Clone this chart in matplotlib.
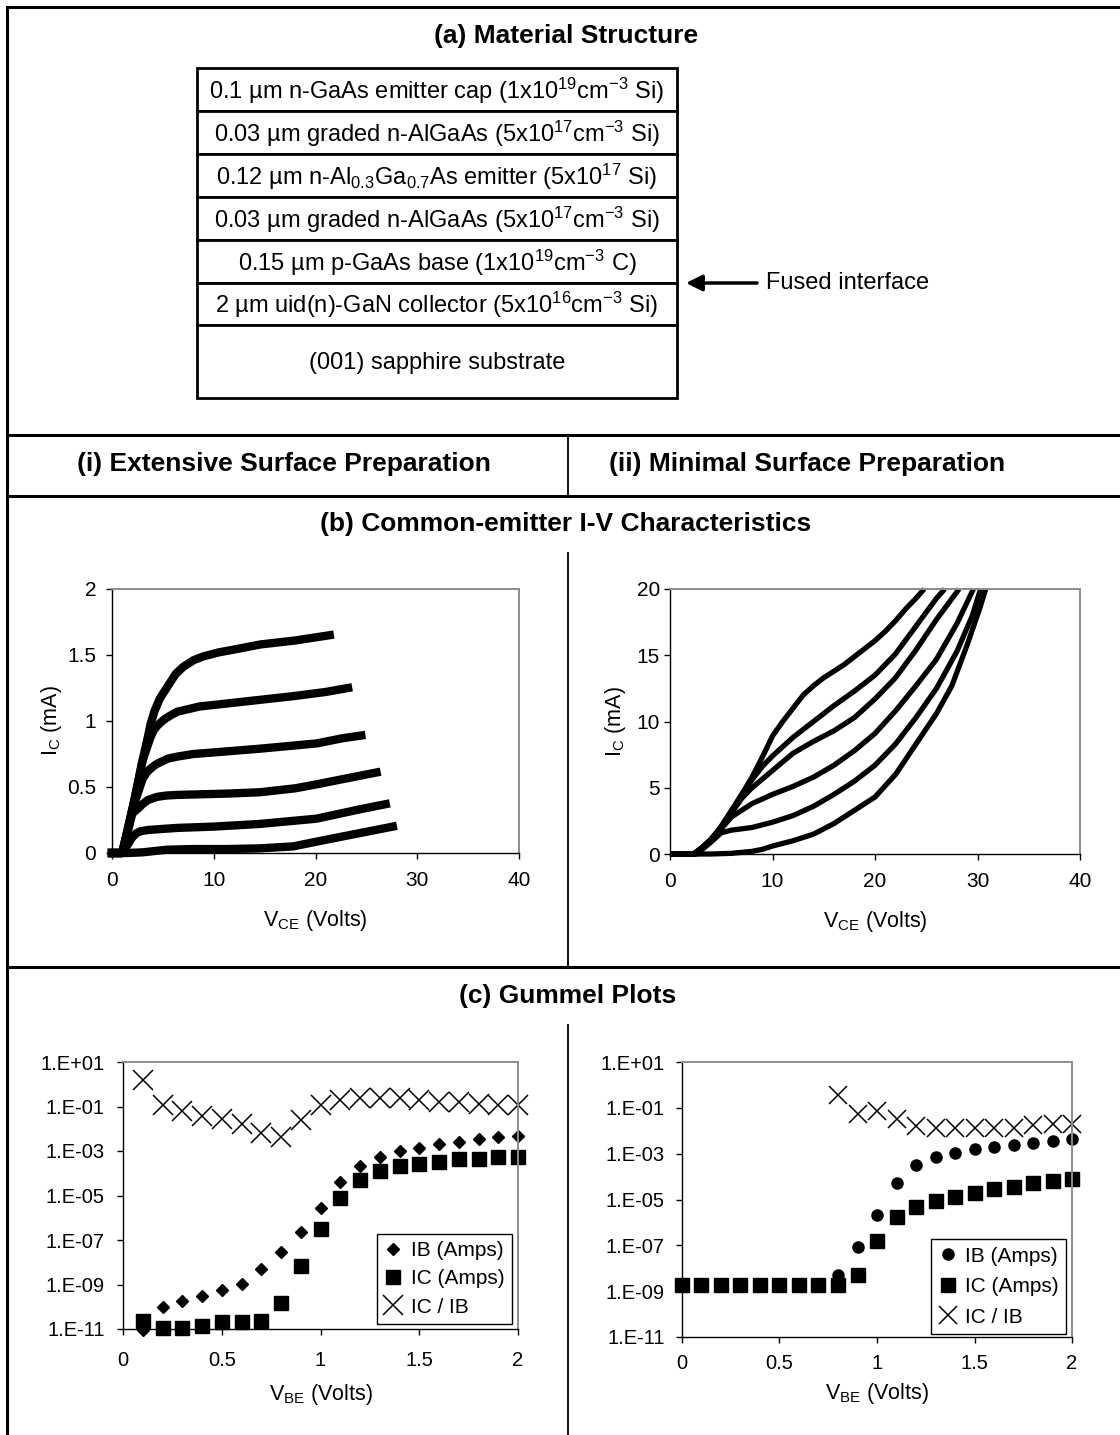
import numpy as np
import matplotlib
matplotlib.use('Agg')
import matplotlib.pyplot as plt
import matplotlib.patches as mplpatches
from matplotlib.ticker import FuncFormatter

plt.rcParams['font.family'] = ['Liberation Sans', 'DejaVu Sans']
plt.rcParams['mathtext.fontset'] = 'custom'
plt.rcParams['mathtext.rm'] = 'Liberation Sans'
plt.rcParams['mathtext.it'] = 'Liberation Sans:italic'
plt.rcParams['mathtext.bf'] = 'Liberation Sans:bold'
plt.rcParams['mathtext.default'] = 'regular'

# ---- data: layer stack ----
layers = ["0.1 \u00b5m n-GaAs emitter cap (1x10$^{19}$cm$^{-3}$ Si)",
          "0.03 \u00b5m graded n-AlGaAs (5x10$^{17}$cm$^{-3}$ Si)",
          "0.12 \u00b5m n-Al$_{0.3}$Ga$_{0.7}$As emitter (5x10$^{17}$ Si)",
          "0.03 \u00b5m graded n-AlGaAs (5x10$^{17}$cm$^{-3}$ Si)",
          "0.15 \u00b5m p-GaAs base (1x10$^{19}$cm$^{-3}$ C)",
          "2 \u00b5m uid(n)-GaN collector (5x10$^{16}$cm$^{-3}$ Si)",
          "(001) sapphire substrate"]

# ---- data: (i) common-emitter IV, mA vs V ----
ivL_v = [[0, 1.0, 1.5, 2.0, 2.5, 3.0, 3.5, 3.8, 4.2, 4.7, 5.2, 5.7, 6.3, 7.0, 8.0, 9.0, 10.5, 11.9, 14.6, 18.0, 21.4],
         [0, 1.0, 2.0, 3.0, 3.8, 4.1, 4.4, 4.8, 5.1, 5.7, 6.4, 7.5, 8.6, 11.0, 14.5, 18.0, 21.0, 23.2],
         [0, 1.0, 2.0, 3.0, 3.4, 3.8, 4.3, 4.8, 5.5, 6.4, 8.0, 9.7, 14.5, 20.1, 22.7, 24.5],
         [0, 1.0, 2.0, 2.6, 3.0, 3.5, 4.4, 5.3, 6.4, 11.3, 14.5, 18.0, 20.1, 22.7, 26.0],
         [0, 1.0, 1.6, 2.0, 2.4, 2.8, 3.6, 6.4, 10.0, 14.5, 20.1, 24.3, 26.9],
         [0, 1.5, 3.0, 5.4, 8.0, 11.3, 14.5, 17.8, 21.0, 24.3, 27.6]]
ivL_i = [[0, 0, 0.15, 0.33, 0.51, 0.70, 0.87, 0.98, 1.08, 1.17, 1.23, 1.29, 1.36, 1.41, 1.46, 1.49, 1.52, 1.54, 1.58, 1.61, 1.65],
         [0, 0, 0.33, 0.70, 0.88, 0.93, 0.96, 0.99, 1.01, 1.04, 1.07, 1.09, 1.11, 1.13, 1.16, 1.19, 1.22, 1.25],
         [0, 0, 0.33, 0.56, 0.61, 0.64, 0.67, 0.69, 0.715, 0.73, 0.75, 0.76, 0.79, 0.83, 0.87, 0.89],
         [0, 0, 0.30, 0.34, 0.37, 0.40, 0.425, 0.435, 0.44, 0.45, 0.46, 0.49, 0.52, 0.56, 0.61],
         [0, 0, 0.07, 0.12, 0.15, 0.165, 0.175, 0.19, 0.20, 0.22, 0.26, 0.33, 0.37],
         [0, 0, 0.005, 0.025, 0.03, 0.03, 0.035, 0.05, 0.10, 0.15, 0.20]]

# ---- data: (ii) common-emitter IV, mA vs V ----
ivR_v = [[0, 2.3, 3, 4, 5, 6, 7, 8, 9, 10, 11, 12, 13, 14, 15, 16, 17, 18, 19, 20, 21, 22, 23, 24, 24.8],
         [0, 2.3, 3, 4, 5, 6, 7, 8, 9, 10, 12, 14, 16, 18, 20, 22, 24, 26, 26.8],
         [0, 2.3, 3, 4, 5, 6, 7, 8, 10, 12, 14, 16, 18, 20, 22, 24, 26, 28.2],
         [0, 2.4, 3, 4, 5, 6, 8, 10, 12, 14, 16, 18, 20, 22, 24, 26, 28, 29.6],
         [0, 2.6, 4, 5, 6, 8, 10, 12, 14, 16, 18, 20, 22, 24, 26, 28, 29.5, 30.3],
         [0, 4, 6, 8, 9, 10, 12, 14, 16, 18, 20, 22, 24, 26, 27.5, 29, 30.2, 30.8]]
ivR_i = [[0, 0, 0.4, 1.1, 2.1, 3.3, 4.5, 5.8, 7.3, 8.9, 10.0, 11.0, 12.0, 12.7, 13.3, 13.8, 14.3,
          14.9, 15.5, 16.1, 16.8, 17.6, 18.5, 19.3, 20],
         [0, 0, 0.4, 1.1, 2.0, 3.2, 4.5, 5.6, 6.6, 7.4, 8.8, 10.0, 11.2, 12.3, 13.5, 15.1, 17.2, 19.3, 20],
         [0, 0, 0.4, 1.1, 2.0, 3.1, 4.2, 5.0, 6.3, 7.6, 8.5, 9.3, 10.3, 11.7, 13.3, 15.4, 17.7, 20],
         [0, 0, 0.3, 1.0, 1.9, 2.8, 3.8, 4.5, 5.1, 5.8, 6.7, 7.8, 9.1, 10.8, 12.7, 14.7, 17.4, 20],
         [0, 0, 0.9, 1.6, 1.8, 2.0, 2.4, 2.9, 3.6, 4.5, 5.5, 6.7, 8.3, 10.3, 12.5, 15.3, 18.0, 20],
         [0, 0, 0.05, 0.2, 0.35, 0.6, 1.0, 1.5, 2.3, 3.3, 4.3, 6.0, 8.3, 10.6, 12.7, 15.8, 18.5, 20]]

# ---- data: Gummel plots, log10 of value ----
vbeL = [0.1, 0.2, 0.3, 0.4, 0.5, 0.6, 0.7, 0.8, 0.9, 1.0, 1.1, 1.2, 1.3, 1.4, 1.5, 1.6, 1.7, 1.8, 1.9, 2.0]
ibL_log = [-11.06, -10.02, -9.76, -9.51, -9.24, -8.97, -8.31, -7.52, -6.62, -5.55,
           -4.38, -3.66, -3.26, -3.01, -2.86, -2.68, -2.59, -2.48, -2.39, -2.32]
icL_log = [-10.63, -10.96, -10.96, -10.85, -10.69, -10.69, -10.63, -9.81, -8.19, -6.50,
           -5.10, -4.31, -3.89, -3.66, -3.59, -3.48, -3.38, -3.38, -3.26, -3.26]
gainL_log = [0.21, -0.94, -1.20, -1.42, -1.57, -1.77, -2.21, -2.39, -1.62, -0.94,
             -0.69, -0.61, -0.61, -0.61, -0.69, -0.79, -0.79, -0.87, -0.94, -0.94]

vbeR = [0.0, 0.1, 0.2, 0.3, 0.4, 0.5, 0.6, 0.7, 0.8, 0.9, 1.0, 1.1, 1.2, 1.3, 1.4, 1.5, 1.6, 1.7, 1.8, 1.9, 2.0]
icR_log = [-8.75, -8.75, -8.75, -8.75, -8.75, -8.75, -8.75, -8.75, -8.75, -8.29, -6.79,
           -5.78, -5.34, -5.07, -4.88, -4.70, -4.52, -4.44, -4.27, -4.18, -4.11]
vbeR_b = [0.8, 0.9, 1.0, 1.1, 1.2, 1.3, 1.4, 1.5, 1.6, 1.7, 1.8, 1.9, 2.0]
ibR_log = [-8.29, -7.06, -5.68, -4.27, -3.50, -3.14, -2.96, -2.80, -2.70, -2.60, -2.53, -2.44, -2.37]
gainR_log = [-0.45, -1.28, -1.13, -1.47, -1.80, -1.86, -1.86, -1.86, -1.86, -1.90, -1.76, -1.71, -1.69]

# ---- figure in pixel units ----
W, H = 1120, 1435
fig = plt.figure(figsize=(W/100, H/100), dpi=100)

def pixbox(x0, y0, x1, y1):
    return [x0/W, 1 - y1/H, (x1 - x0)/W, (y1 - y0)/H]

bg = fig.add_axes([0, 0, 1, 1])
bg.set_xlim(0, W)
bg.set_ylim(H, 0)
bg.axis('off')

# frame lines
bg.plot([7, W], [7, 7], color='black', lw=2.2)
bg.plot([7, 7], [7, H], color='black', lw=2.2)
for yy in [435, 496, 967]:
    bg.plot([7, W], [yy, yy], color='black', lw=2.2)
for (ya, yb) in [(435, 496), (553, 967), (1025, H)]:
    bg.plot([568, 568], [ya, yb], color='black', lw=1.3)

hfont = dict(fontsize=19, fontweight='bold', ha='center', va='center')
bg.text(566, 36, "(a) Material Structure", **hfont)
bg.text(284, 464, "(i) Extensive Surface Preparation", **hfont)
bg.text(807, 464, "(ii) Minimal Surface Preparation", **hfont)
bg.text(566, 524, "(b) Common-emitter I-V Characteristics", **hfont)
bg.text(568, 996, "(c) Gummel Plots", **hfont)

# layer stack
edges = [68, 111, 154, 197, 240, 283, 325, 398]
for k in range(len(layers)):
    rect = mplpatches.Rectangle((197, edges[k]), 480, edges[k+1] - edges[k],
                                facecolor='white', edgecolor='black', linewidth=2)
    bg.add_patch(rect)
    bg.text(437, (edges[k] + edges[k+1])/2 + 1, layers[k], fontsize=17,
            ha='center', va='center')

bg.annotate('', xy=(686, 283), xytext=(757, 283),
            arrowprops=dict(arrowstyle='-|>', lw=2.5, color='black',
                            mutation_scale=24, shrinkA=0, shrinkB=0))
bg.text(766, 283, "Fused interface", fontsize=17, ha='left', va='center')


def style(ax, tsize, xpad, ypad):
    for s in ['top', 'right']:
        ax.spines[s].set_color('#8c8c8c')
        ax.spines[s].set_linewidth(1.4)
    for s in ['left', 'bottom']:
        ax.spines[s].set_color('black')
        ax.spines[s].set_linewidth(1.0)
    ax.tick_params(direction='out', length=4, width=1, labelsize=tsize)
    ax.tick_params(axis='x', pad=xpad)
    ax.tick_params(axis='y', pad=ypad)
    ax.minorticks_off()


# (i) IV
axA = fig.add_axes(pixbox(112, 589, 519, 853))
for v, i in zip(ivL_v, ivL_i):
    axA.plot(v, i, color='black', lw=6, clip_on=False, solid_joinstyle='round')
axA.set_xlim(0, 40)
axA.set_ylim(0, 2)
axA.set_xticks([0, 10, 20, 30, 40])
axA.set_yticks([0, 0.5, 1, 1.5, 2])
axA.set_yticklabels(['0', '0.5', '1', '1.5', '2'])
style(axA, 15, 9, 7.5)
axA.set_ylabel("I$_C$ (mA)", fontsize=15.5)
axA.yaxis.set_label_coords(-0.118, 0.5)
axA.set_xlabel("V$_{CE}$ (Volts)", fontsize=15.5)
axA.xaxis.set_label_coords(0.5, -0.21)

# (ii) IV
axB = fig.add_axes(pixbox(670, 589, 1080, 854))
for v, i in zip(ivR_v, ivR_i):
    axB.plot(v, i, color='black', lw=3.8, clip_on=False, solid_capstyle='butt')
axB.set_xlim(0, 40)
axB.set_ylim(0, 20)
axB.set_xticks([0, 10, 20, 30, 40])
axB.set_yticks([0, 5, 10, 15, 20])
style(axB, 15, 9, 3.2)
axB.set_ylabel("I$_C$ (mA)", fontsize=15.5)
axB.yaxis.set_label_coords(-0.102, 0.5)
axB.set_xlabel("V$_{CE}$ (Volts)", fontsize=15.5)
axB.xaxis.set_label_coords(0.5, -0.207)

efmt = FuncFormatter(lambda v, pos: '1.E%+03d' % int(round(np.log10(v))))


def gummel(ax, xlab_y):
    ax.set_yscale('log')
    ax.set_ylim(1e-11, 1e1)
    ax.set_yticks([10.0**e for e in range(-11, 2, 2)])
    ax.yaxis.set_major_formatter(efmt)
    ax.set_xlim(0, 2)
    ax.set_xticks([0, 0.5, 1, 1.5, 2])
    ax.set_xticklabels(['0', '0.5', '1', '1.5', '2'])
    ax.set_xlabel("V$_{BE}$ (Volts)", fontsize=15.5)
    ax.xaxis.set_label_coords(0.5, xlab_y)


axC = fig.add_axes(pixbox(123, 1062, 518, 1329))
axC.plot(vbeL, 10.0**np.array(ibL_log), 'D', color='black', ms=6.5, ls='none', clip_on=False, label='IB (Amps)')
axC.plot(vbeL, 10.0**np.array(icL_log), 's', color='black', ms=10, ls='none', clip_on=False, label='IC (Amps)')
axC.plot(vbeL, 10.0**np.array(gainL_log), 'x', color='black', ms=14, mew=1.1, ls='none', clip_on=False, label='IC / IB')
gummel(axC, -0.2)
style(axC, 14.5, 12, 9)
legC = axC.legend(loc='lower right', bbox_to_anchor=(0.985, 0.019), borderaxespad=0,
                  fontsize=15, fancybox=False, framealpha=1, edgecolor='black',
                  handlelength=0.9, handletextpad=0.4, borderpad=0.35, labelspacing=0.45,
                  numpoints=1)
legC.get_frame().set_linewidth(1.0)

axD = fig.add_axes(pixbox(682, 1062, 1072, 1337))
axD.plot(vbeR_b, 10.0**np.array(ibR_log), 'o', color='black', ms=8, ls='none', clip_on=False, label='IB (Amps)')
axD.plot(vbeR, 10.0**np.array(icR_log), 's', color='black', ms=10, ls='none', clip_on=False, label='IC (Amps)')
axD.plot(vbeR_b, 10.0**np.array(gainR_log), 'x', color='black', ms=13, mew=1.1, ls='none', clip_on=False, label='IC / IB')
gummel(axD, -0.16)
style(axD, 14.5, 8, 8.5)
legD = axD.legend(loc='lower right', bbox_to_anchor=(0.985, 0.011), borderaxespad=0,
                  fontsize=15, fancybox=False, framealpha=1, edgecolor='black',
                  handlelength=0.9, handletextpad=0.4, borderpad=0.35, labelspacing=0.55,
                  numpoints=1)
legD.get_frame().set_linewidth(1.0)

fig.savefig('out.png', dpi=100)
